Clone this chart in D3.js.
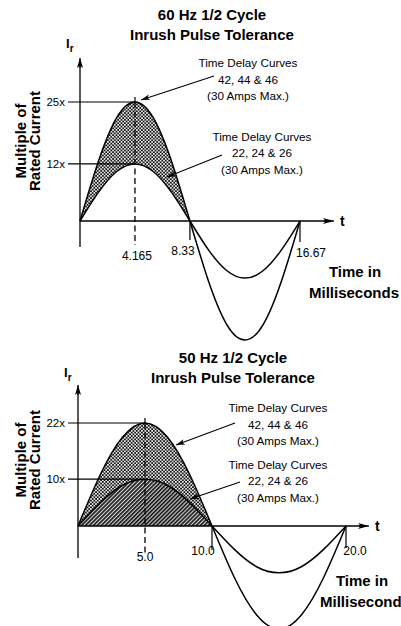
<!DOCTYPE html>
<html><head><meta charset="utf-8">
<script src="https://cdn.jsdelivr.net/npm/d3@7"></script>
<style>
body{margin:0;background:#fff}
svg{display:block}
text{font-family:"Liberation Sans",Arial,Helvetica,sans-serif;fill:#000}
</style>
</head><body>
<svg id="c" width="401" height="626"></svg>
<script>
// ---------- data: 60 Hz ----------
const titles60 = ["60 Hz 1/2 Cycle", "Inrush Pulse Tolerance"];
const time60 = [0, 1.39, 2.78, 4.165, 5.55, 6.94, 8.33, 9.72, 11.11, 12.5, 13.89, 15.28, 16.67];
const curveA60 = [0, 12.5, 21.7, 25, 21.7, 12.5, 0, -12.5, -21.7, -25, -21.7, -12.5, 0];
const curveB60 = [0, 6, 10.4, 12, 10.4, 6, 0, -6, -10.4, -12, -10.4, -6, 0];
const xTickValues60 = [4.165, 8.33, 16.67];
const xTickLabels60 = ["4.165", "8.33", "16.67"];
const yTickValues60 = [25, 12];
const yTickLabels60 = ["25x", "12x"];
const noteA60 = ["Time Delay Curves", "42, 44 & 46", "(30 Amps Max.)"];
const noteB60 = ["Time Delay Curves", "22, 24 & 26", "(30 Amps Max.)"];
const xTitle60 = ["Time in", "Milliseconds"];

// ---------- data: 50 Hz ----------
const titles50 = ["50 Hz 1/2 Cycle", "Inrush Pulse Tolerance"];
const time50 = [0, 1.67, 3.33, 5, 6.67, 8.33, 10, 11.67, 13.33, 15, 16.67, 18.33, 20];
const curveA50 = [0, 11, 19, 22, 19, 11, 0, -11, -19, -22, -19, -11, 0];
const curveB50 = [0, 5, 8.7, 10, 8.7, 5, 0, -5, -8.7, -10, -8.7, -5, 0];
const xTickValues50 = [5.0, 10.0, 20.0];
const xTickLabels50 = ["5.0", "10.0", "20.0"];
const yTickValues50 = [22, 10];
const yTickLabels50 = ["22x", "10x"];
const noteA50 = ["Time Delay Curves", "42, 44 & 46", "(30 Amps Max.)"];
const noteB50 = ["Time Delay Curves", "22, 24 & 26", "(30 Amps Max.)"];
const xTitle50 = ["Time in", "Millisecond"];

const yTitle = ["Multiple of", "Rated Current"];

// ---------- drawing ----------
const svg = d3.select("#c");
const defs = svg.append("defs");

const chk = defs.append("pattern").attr("id", "chk").attr("patternUnits", "userSpaceOnUse")
  .attr("width", 3.4).attr("height", 3.4);
chk.append("rect").attr("width", 3.4).attr("height", 3.4).attr("fill", "#151515");
chk.append("rect").attr("x", 0).attr("y", 0).attr("width", 1.6).attr("height", 1.6).attr("fill", "#fff");
chk.append("rect").attr("x", 1.7).attr("y", 1.7).attr("width", 1.6).attr("height", 1.6).attr("fill", "#fff");

const hat = defs.append("pattern").attr("id", "hat").attr("patternUnits", "userSpaceOnUse")
  .attr("width", 2.8).attr("height", 10).attr("patternTransform", "rotate(45)");
hat.append("rect").attr("width", 2.8).attr("height", 10).attr("fill", "#d0d0d0");
hat.append("rect").attr("width", 1.6).attr("height", 10).attr("fill", "#111");

function arrow(g, x1, y1, x2, y2, len, half, sw) {
  g.append("line").attr("x1", x1).attr("y1", y1).attr("x2", x2).attr("y2", y2)
    .attr("stroke", "#000").attr("stroke-width", sw);
  const a = Math.atan2(y2 - y1, x2 - x1);
  const bx = x2 - len * Math.cos(a), by = y2 - len * Math.sin(a);
  const px = -Math.sin(a) * half, py = Math.cos(a) * half;
  g.append("path").attr("d", `M${x2},${y2}L${bx + px},${by + py}L${bx + len*0.25*Math.cos(a)},${by + len*0.25*Math.sin(a)}L${bx - px},${by - py}Z`)
    .attr("fill", "#000");
}

function panel(cfg, L) {
  const g = svg.append("g");
  const x = d3.scaleLinear().domain([0, cfg.tMax]).range([L.x0, L.x1]);
  const y = d3.scaleLinear().domain([0, cfg.yRef]).range([L.yBase, L.yRef]);
  const pts = cfg.time.map((t, i) => ({t, a: cfg.a[i], b: cfg.b[i]}));
  const halfIdx = cfg.a.findIndex((v, i) => i > 0 && v === 0);
  const pos = pts.slice(0, halfIdx + 1);

  // fills
  if (cfg.hatchUnder) {
    g.append("path").datum(pos).attr("fill", "url(#hat)")
      .attr("d", d3.area().curve(d3.curveNatural).x(d => x(d.t)).y0(y(0)).y1(d => y(d.b)));
  }
  g.append("path").datum(pos).attr("fill", "url(#chk)")
    .attr("d", d3.area().curve(d3.curveNatural).x(d => x(d.t)).y0(d => y(d.b)).y1(d => y(d.a)));

  // peak reference lines
  const peakT = cfg.time[cfg.a.indexOf(d3.max(cfg.a))];
  cfg.yTicks.forEach((v, i) => {
    g.append("line").attr("x1", L.refLeft).attr("x2", x(peakT)).attr("y1", y(v)).attr("y2", y(v))
      .attr("stroke", "#000").attr("stroke-width", 1.2);
    g.append("text").attr("x", L.refLeft - 3).attr("y", y(v) + 4).attr("text-anchor", "end")
      .attr("font-size", 11.5).text(cfg.yLabels[i]);
  });

  // dashed peak line
  g.append("line").attr("x1", x(peakT)).attr("x2", x(peakT))
    .attr("y1", y(cfg.yTicks[0]) - 5).attr("y2", y(cfg.yTicks[0]))
    .attr("stroke", "#000").attr("stroke-width", 1.2);
  g.append("line").attr("x1", x(peakT)).attr("x2", x(peakT))
    .attr("y1", y(cfg.yTicks[0])).attr("y2", L.dashEnd)
    .attr("stroke", "#000").attr("stroke-width", 1.3).attr("stroke-dasharray", "6,3.5");

  // curves
  ["a", "b"].forEach(k => {
    g.append("path").datum(pts).attr("fill", "none").attr("stroke", "#000").attr("stroke-width", 1.5)
      .attr("d", d3.line().curve(d3.curveNatural).x(d => x(d.t)).y(d => y(d[k])));
  });

  // axes
  g.append("line").attr("x1", L.x0).attr("x2", L.x0).attr("y1", L.yAxisTop + 6).attr("y2", L.yAxisBottom)
    .attr("stroke", "#000").attr("stroke-width", 1.3);
  arrow(g, L.x0, L.yAxisTop + 10, L.x0, L.yAxisTop, 10, 3, 1.3);
  g.append("line").attr("x1", L.x0).attr("x2", L.xAxisRight - 6).attr("y1", L.yBase).attr("y2", L.yBase)
    .attr("stroke", "#000").attr("stroke-width", 1.3);
  arrow(g, L.xAxisRight - 10, L.yBase, L.xAxisRight, L.yBase, 11, 3, 1.3);
  g.append("text").attr("x", L.xAxisRight + 6).attr("y", L.yBase + 5).attr("font-size", 14)
    .attr("font-weight", "bold").text("t");

  // x ticks
  cfg.xTicks.forEach((v, i) => {
    if (i > 0) {
      g.append("line").attr("x1", x(v)).attr("x2", x(v)).attr("y1", L.yBase).attr("y2", L.yBase + L.tickLen[i])
        .attr("stroke", "#000").attr("stroke-width", 1.2);
    }
    g.append("text").attr("x", x(v) + L.tickDx[i]).attr("y", L.tickY[i]).attr("text-anchor", "middle")
      .attr("font-size", 12).text(cfg.xLabels[i]);
  });

  // I_r
  const ir = g.append("text").attr("x", L.irX).attr("y", L.irY).attr("font-weight", "bold").attr("font-size", 13);
  ir.append("tspan").text("I");
  ir.append("tspan").attr("font-size", 10).attr("dy", 3.5).text("r");

  // titles
  cfg.titles.forEach((s, i) => {
    g.append("text").attr("x", L.titleX).attr("y", L.titleY + i * 20).attr("text-anchor", "middle")
      .attr("font-weight", "bold").attr("font-size", 15).text(s);
  });

  // y title
  yTitle.forEach((s, i) => {
    g.append("text").attr("transform", `translate(${L.yTitleX + i * 14},${L.yTitleCy}) rotate(-90)`)
      .attr("text-anchor", "middle").attr("font-weight", "bold").attr("font-size", 15).text(s);
  });

  // x title
  cfg.xTitle.forEach((s, i) => {
    g.append("text").attr("x", L.xTitleX[i]).attr("y", L.xTitleY + i * 21).attr("text-anchor", L.xTitleAnchor[i])
      .attr("font-weight", "bold").attr("font-size", 15).text(s);
  });

  // notes
  [cfg.noteA, cfg.noteB].forEach((lines, n) => {
    const N = L.notes[n];
    lines.forEach((s, i) => {
      g.append("text").attr("x", N.cx).attr("y", N.y + i * 16.5).attr("text-anchor", "middle")
        .attr("font-size", 11.7).text(s);
    });
    arrow(g, N.ax1, N.ay1, N.ax2, N.ay2, 9, 2.8, 1.1);
  });
}

panel({
  titles: titles60, time: time60, a: curveA60, b: curveB60, tMax: 16.67, yRef: 25,
  xTicks: xTickValues60, xLabels: xTickLabels60, yTicks: yTickValues60, yLabels: yTickLabels60,
  noteA: noteA60, noteB: noteB60, xTitle: xTitle60, hatchUnder: false
}, {
  x0: 80, x1: 300, yBase: 221, yRef: 102, refLeft: 68, dashEnd: 245,
  yAxisTop: 58, yAxisBottom: 247, xAxisRight: 334,
  tickLen: [0, 19, 21], tickDx: [2, -7, 11], tickY: [260, 255, 257],
  irX: 66, irY: 48, titleX: 212, titleY: 20,
  yTitleX: 26, yTitleCy: 141,
  xTitleX: [355, 354], xTitleAnchor: ["middle", "middle"], xTitleY: 277,
  notes: [
    {cx: 248, y: 67, ax1: 214, ay1: 76, ax2: 141, ay2: 100},
    {cx: 262, y: 140.5, ax1: 222, ay1: 155, ax2: 167, ay2: 177}
  ]
});

panel({
  titles: titles50, time: time50, a: curveA50, b: curveB50, tMax: 20, yRef: 22,
  xTicks: xTickValues50, xLabels: xTickLabels50, yTicks: yTickValues50, yLabels: yTickLabels50,
  noteA: noteA50, noteB: noteB50, xTitle: xTitle50, hatchUnder: true
}, {
  x0: 78, x1: 346, yBase: 526, yRef: 423, refLeft: 68, dashEnd: 555,
  yAxisTop: 385, yAxisBottom: 558, xAxisRight: 369,
  tickLen: [0, 24, 22], tickDx: [0, -9, 9], tickY: [561, 555, 555],
  irX: 64, irY: 377, titleX: 233, titleY: 363,
  yTitleX: 26, yTitleCy: 460,
  xTitleX: [362, 320], xTitleAnchor: ["middle", "start"], xTitleY: 586,
  notes: [
    {cx: 278, y: 412, ax1: 235, ay1: 423, ax2: 176, ay2: 445},
    {cx: 278, y: 468.5, ax1: 240, ay1: 482, ax2: 190, ay2: 499}
  ]
});
</script>
</body></html>
